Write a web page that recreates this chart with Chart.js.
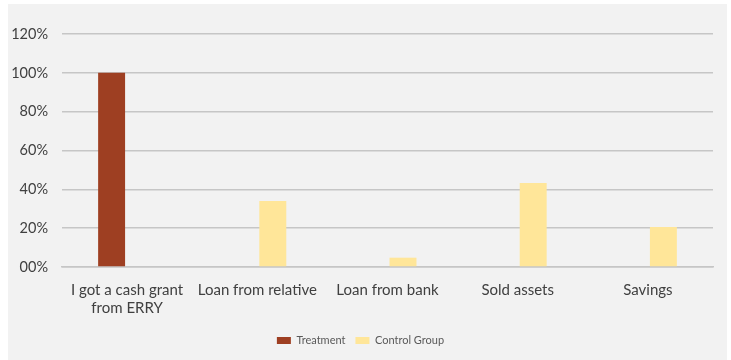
<!DOCTYPE html>
<html>
<head>
<meta charset="utf-8">
<script src="https://cdn.jsdelivr.net/npm/chart.js@4"></script>
<style>
    html, body { margin: 0; padding: 0; background: #ffffff; }
    #wrap {
        position: absolute;
        left: 8px;
        top: 4px;
        width: 719px;
        height: 356px;
        background: #f2f2f2;
    }
</style>
</head>
<body>
<div id="wrap"><canvas id="sourcesChart"></canvas></div>
<script>
const categories = [
    ['I got a cash grant', 'from ERRY'],
    'Loan from relative',
    'Loan from bank',
    'Sold assets',
    'Savings'
];
const treatment = [1.00, 0, 0, 0, 0];
const controlGroup = [0, 0.34, 0.048, 0.433, 0.206];
const yTicks = [0, 0.2, 0.4, 0.6, 0.8, 1.0, 1.2];

document.addEventListener('DOMContentLoaded', function () {
    Chart.defaults.font.family = 'Lato, "Noto Sans", sans-serif';
    Chart.defaults.color = '#404040';

    const ctx = document.getElementById('sourcesChart').getContext('2d');
    const chart = new Chart(ctx, {
        type: 'bar',
        data: {
            labels: categories,
            datasets: [{
                label: 'Treatment',
                data: treatment,
                backgroundColor: '#9e3f22',
                borderWidth: 0
            }, {
                label: 'Control Group',
                data: controlGroup,
                backgroundColor: '#ffe699',
                borderWidth: 0
            }]
        },
        options: {
            responsive: true,
            maintainAspectRatio: false,
            animation: false,
            layout: {
                padding: { left: 0, right: 14, top: 30, bottom: 4 }
            },
            datasets: {
                bar: {
                    categoryPercentage: 0.476,
                    barPercentage: 0.87
                }
            },
            scales: {
                x: {
                    grid: { display: false },
                    border: { display: true, color: '#c6c6c6', width: 1.5 },
                    ticks: {
                        font: { size: 15 },
                        color: '#404040',
                        padding: 6,
                        maxRotation: 0,
                        autoSkip: false
                    },
                    afterFit: function (scale) {
                        scale.height = 58;
                    }
                },
                y: {
                    min: 0,
                    max: 1.2,
                    afterBuildTicks: function (scale) {
                        scale.ticks = yTicks.map(v => ({ value: v }));
                    },
                    grid: {
                        color: '#c6c6c6',
                        lineWidth: 1.5,
                        drawTicks: false
                    },
                    border: { display: false },
                    ticks: {
                        font: { size: 14.5 },
                        color: '#404040',
                        padding: 14,
                        callback: function (value) {
                            return String(Math.round(value * 100)).padStart(2, '0') + '%';
                        }
                    },
                    afterFit: function (scale) {
                        scale.width = 54;
                    }
                }
            },
            plugins: {
                legend: {
                    position: 'bottom',
                    labels: {
                        boxWidth: 14,
                        boxHeight: 7,
                        padding: 10,
                        color: '#595959',
                        font: { size: 11 }
                    }
                },
                tooltip: { enabled: false }
            }
        }
    });
});
</script>
</body>
</html>
